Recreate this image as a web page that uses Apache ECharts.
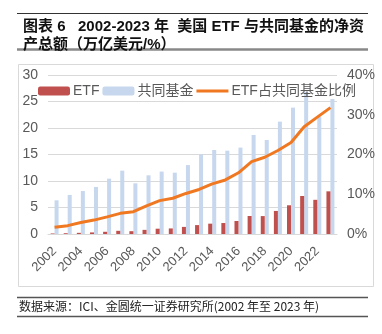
<!DOCTYPE html>
<html><head><meta charset="utf-8">
<script src="https://cdn.jsdelivr.net/npm/echarts@6/dist/echarts.min.js"></script>
<style>html,body{margin:0;padding:0;background:#fff}#c{width:382px;height:334px}</style>
</head><body><div id="c"></div>
<script>
const years = ['2002','2003','2004','2005','2006','2007','2008','2009','2010','2011','2012','2013','2014','2015','2016','2017','2018','2019','2020','2021','2022','2023'];
const etfAssets = [0.10,0.15,0.22,0.30,0.42,0.60,0.53,0.78,1.00,1.05,1.34,1.68,1.95,2.07,2.45,3.40,3.38,4.35,5.42,7.17,6.45,8.05];
const mutualFundAssets = [6.35,7.36,8.10,8.88,10.44,11.95,9.56,11.07,11.78,11.57,13.0,15.03,15.85,15.72,16.3,18.68,17.74,21.2,23.84,26.86,22.1,25.47];
const etfShareOfMF = [1.7,2.1,2.9,3.5,4.3,5.2,5.6,7.1,8.4,9.0,10.2,11.2,12.6,13.6,15.4,18.2,19.3,21.0,23.0,27.0,29.4,31.8];
const leftTicks = {min:0, max:30, interval:5};
const rightTicks = {min:0, max:40, interval:10};

const FONT = '"Liberation Sans", Arial, "Noto Sans CJK SC", sans-serif';
const chart = echarts.init(document.getElementById('c'), null, {renderer:'canvas'});
chart.setOption({
  animation:false,
  backgroundColor:'#fff',
  textStyle:{fontFamily:FONT},
  title:{
    text:'图表 6   2002-2023 年  美国 ETF 与共同基金的净资\n产总额（万亿美元/%）',
    left:18, top:13,
    textStyle:{fontSize:15, fontWeight:'bold', color:'#111', lineHeight:18, fontFamily:FONT}
  },
  graphic:[
    {type:'line', shape:{x1:17,y1:13.5,x2:368,y2:13.5}, style:{stroke:'#333',lineWidth:1}},
    {type:'line', shape:{x1:17,y1:49.5,x2:368,y2:49.5}, style:{stroke:'#888',lineWidth:2.5}},
    {type:'rect', shape:{x:18.5,y:64.5,width:355,height:222}, style:{fill:null,stroke:'#d9d9d9',lineWidth:1}, z:-1},
    {type:'line', shape:{x1:17,y1:297.5,x2:368,y2:297.5}, style:{stroke:'#555',lineWidth:1.5}},
    {type:'line', shape:{x1:17,y1:316.5,x2:368,y2:316.5}, style:{stroke:'#555',lineWidth:1.5}},
    {type:'text', left:19, top:300, style:{text:'数据来源：ICI、金圆统一证券研究所(2002 年至 2023 年)', fontSize:12, fill:'#222', fontFamily:'"Noto Sans CJK SC", sans-serif'}}
  ],
  legend:{
    top:79, left:33, itemGap:3,
    itemWidth:32, itemHeight:9,
    textStyle:{fontSize:14, color:'#595959', fontFamily:FONT, padding:[0,0,0,-2]},
    data:[{name:'ETF'},{name:'共同基金'},
      {name:'ETF占共同基金比例', icon:'path://M0,0 L32,0 L32,3 L0,3 Z', itemStyle:{color:'#F07820'}}]
  },
  grid:{left:48, right:45, top:75, bottom:100, containLabel:false},
  xAxis:{
    type:'category', data:years,
    axisLine:{show:true, lineStyle:{color:'#d9d9d9'}},
    axisTick:{show:false},
    axisLabel:{interval:1, rotate:45, fontSize:13, color:'#595959', margin:15}
  },
  yAxis:[
    {type:'value', min:leftTicks.min, max:leftTicks.max, interval:leftTicks.interval,
     axisLine:{show:false}, axisTick:{show:false},
     splitLine:{lineStyle:{color:'#d9d9d9'}},
     axisLabel:{fontSize:14, color:'#595959', margin:10}},
    {type:'value', min:rightTicks.min, max:rightTicks.max, interval:rightTicks.interval, position:'right',
     axisLine:{show:false}, axisTick:{show:false}, splitLine:{show:false},
     axisLabel:{fontSize:14, color:'#595959', margin:10, formatter:'{value}%'}}
  ],
  series:[
    {name:'ETF', type:'bar', data:etfAssets, barWidth:4, barGap:'0%', itemStyle:{color:'#C0504D'}, z:3},
    {name:'共同基金', type:'bar', data:mutualFundAssets, barWidth:4, barGap:'0%', itemStyle:{color:'#C6D7EE'}, z:2},
    {name:'ETF占共同基金比例', type:'line', yAxisIndex:1, data:etfShareOfMF, symbol:'none',
     lineStyle:{color:'#F07820', width:3}, itemStyle:{color:'#F07820'}, z:4}
  ]
});
</script></body></html>
